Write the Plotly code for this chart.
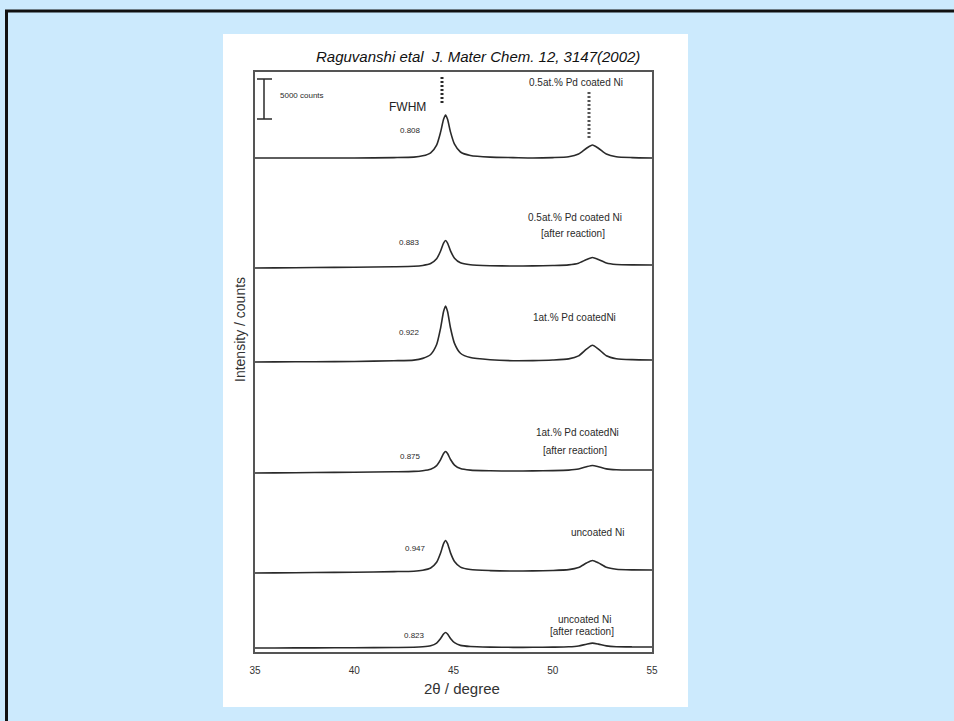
import plotly.graph_objects as go

# ---------------- data ----------------
two_theta = [35, 36, 38, 40, 42, 43, 43.45, 43.85, 44.15, 44.35, 44.5, 44.6, 44.7,
             44.85, 45.05, 45.35, 45.85, 46.85, 48, 49, 50, 50.8, 51.3, 51.7, 52.0,
             52.3, 52.7, 53.2, 54, 55]

# intensities in counts (stacked patterns, top to bottom)
pd05_coated = [61750, 61750, 61750, 61750, 61800, 61860, 62020, 62400, 63360, 64980,
               66590, 67125, 66590, 64980, 63470, 62500, 62070, 61860, 61800, 61750,
               61800, 61910, 62240, 62970, 63375, 62970, 62240, 61910, 61800, 61750]
pd05_after = [48000, 48020, 48060, 48090, 48160, 48215, 48320, 48560, 49150, 50130,
              51105, 51430, 51110, 50140, 49230, 48655, 48405, 48290, 48245, 48260,
              48310, 48395, 48605, 49060, 49320, 49075, 48630, 48440, 48385, 48375]
pd1_coated = [36250, 36262, 36288, 36312, 36407, 36488, 36702, 37187, 38429, 40494,
              42559, 43247, 42561, 40500, 38578, 37344, 36801, 36538, 36412, 36425,
              36494, 36636, 37017, 37865, 38337, 37872, 37034, 36666, 36544, 36500]
pd1_after = [22375, 22394, 22431, 22469, 22531, 22575, 22661, 22844, 23299, 24053,
             24806, 25058, 24809, 24062, 23366, 22922, 22731, 22650, 22619, 22637,
             22675, 22734, 22869, 23157, 23319, 23168, 22895, 22779, 22750, 22750]
uncoated = [9875, 9894, 9931, 9969, 10045, 10103, 10230, 10509, 11212, 12378,
            13544, 13933, 13547, 12387, 11306, 10615, 10314, 10178, 10119, 10137,
            10194, 10296, 10556, 11126, 11444, 11137, 10582, 10341, 10269, 10250]
uncoated_after = [500, 506, 519, 531, 563, 588, 648, 781, 1121, 1684,
                  2248, 2436, 2249, 1687, 1164, 829, 682, 613, 581, 587,
                  609, 649, 752, 979, 1106, 983, 761, 664, 634, 625]

series = [pd05_coated, pd05_after, pd1_coated, pd1_after, uncoated, uncoated_after]
sample_names = ["0.5at.% Pd coated Ni", "0.5at.% Pd coated Ni", "1at.% Pd coatedNi",
                "1at.% Pd coatedNi", "uncoated Ni", "uncoated Ni"]
fwhm_values = ["0.808", "0.883", "0.922", "0.875", "0.947", "0.823"]
x_ticks = [35, 40, 45, 50, 55]

# ---------------- layout geometry ----------------
W, H = 954, 721
PL, PR, PT, PB = 255, 652, 72, 652   # plot area in pixels


def px(xp):
    return (xp - PL) / (PR - PL)


def py(yp):
    return (PB - yp) / (PB - PT)


INK = "#2a2a2a"
TXT = "#2a2a2a"
FONT = "Liberation Sans, Arial, sans-serif"

fig = go.Figure()
for s, name in zip(series, sample_names):
    fig.add_trace(go.Scatter(x=two_theta, y=s, mode="lines", name=name,
                             line=dict(color=INK, width=1.6, shape="spline", smoothing=0.6),
                             hoverinfo="x+y", showlegend=False))

shapes = []
# white scanned page
shapes.append(dict(type="rect", xref="paper", yref="paper", x0=px(223), x1=px(688),
                   y0=py(707), y1=py(34), fillcolor="white", line=dict(width=0), layer="below"))
# outer black border (top and left)
shapes.append(dict(type="line", xref="paper", yref="paper", x0=px(5), x1=px(960),
                   y0=py(11), y1=py(11), line=dict(color="#111", width=3), layer="above"))
shapes.append(dict(type="line", xref="paper", yref="paper", x0=px(6.5), x1=px(6.5),
                   y0=py(10), y1=py(730), line=dict(color="#111", width=3), layer="above"))
# scale bar
shapes.append(dict(type="line", xref="paper", yref="paper", x0=px(264), x1=px(264),
                   y0=py(79), y1=py(119), line=dict(color=INK, width=1.5)))
for yy in (79, 119):
    shapes.append(dict(type="line", xref="paper", yref="paper", x0=px(257), x1=px(272),
                       y0=py(yy), y1=py(yy), line=dict(color=INK, width=1.5)))
# reflection markers (dashed)
shapes.append(dict(type="line", xref="paper", yref="paper", x0=px(442), x1=px(442),
                   y0=py(77), y1=py(105), line=dict(color=INK, width=3, dash="2px,2px")))
shapes.append(dict(type="line", xref="paper", yref="paper", x0=px(589), x1=px(589),
                   y0=py(92), y1=py(140), line=dict(color="#555", width=3, dash="2px,2px")))

ann = []


def text(t, x, y, size=10, color=TXT, **kw):
    ann.append(dict(text=t, xref="paper", yref="paper", x=px(x), y=py(y), showarrow=False,
                    xanchor="center", yanchor="middle",
                    font=dict(family=FONT, size=size, color=color), **kw))


text("<i>Raguvanshi etal  J. Mater Chem. 12, 3147(2002)</i>", 478, 57, size=15, color="#111")
text("5000 counts", 302, 96, size=8)
text("FWHM", 407, 107, size=12, color="#222")

label_pos = [(576, 82, None), (575, 217, 233), (574, 317, None),
             (577, 432, 450), (597, 532, None), (584, 619, 631)]
fwhm_pos = [(410, 130), (409, 242), (409, 332), (410, 456), (415, 548), (414, 635)]
for (lx, ly, ly2), name in zip(label_pos, sample_names):
    text(name, lx, ly, size=10)
    if ly2 is not None:
        text("[after reaction]", lx - 2, ly2, size=10)
for (fx, fy), f in zip(fwhm_pos, fwhm_values):
    text(f, fx, fy, size=8)

text("Intensity / counts", 240, 330, size=14, color="#333", textangle=-90)
text("2θ / degree", 462, 688, size=15, color="#333")

fig.update_layout(
    width=W, height=H, autosize=False,
    margin=dict(l=PL, r=W - PR, t=PT, b=H - PB, pad=0),
    paper_bgcolor="#cceafd", plot_bgcolor="white",
    shapes=shapes, annotations=ann,
    xaxis=dict(range=[35, 55], tickvals=x_ticks, ticktext=[str(v) for v in x_ticks],
               showgrid=False, zeroline=False, showline=True, mirror=True,
               linecolor="#555", linewidth=2, ticks="", ticklabelstandoff=8,
               tickfont=dict(family=FONT, size=10, color="#333")),
    yaxis=dict(range=[0, 72500], showgrid=False, zeroline=False, showline=True, mirror=True,
               linecolor="#555", linewidth=1.5, showticklabels=False, ticks=""),
)

fig.write_html("out.html", config={"displayModeBar": False},
               post_script="document.body.style.margin='0';document.body.style.overflow='hidden';")
